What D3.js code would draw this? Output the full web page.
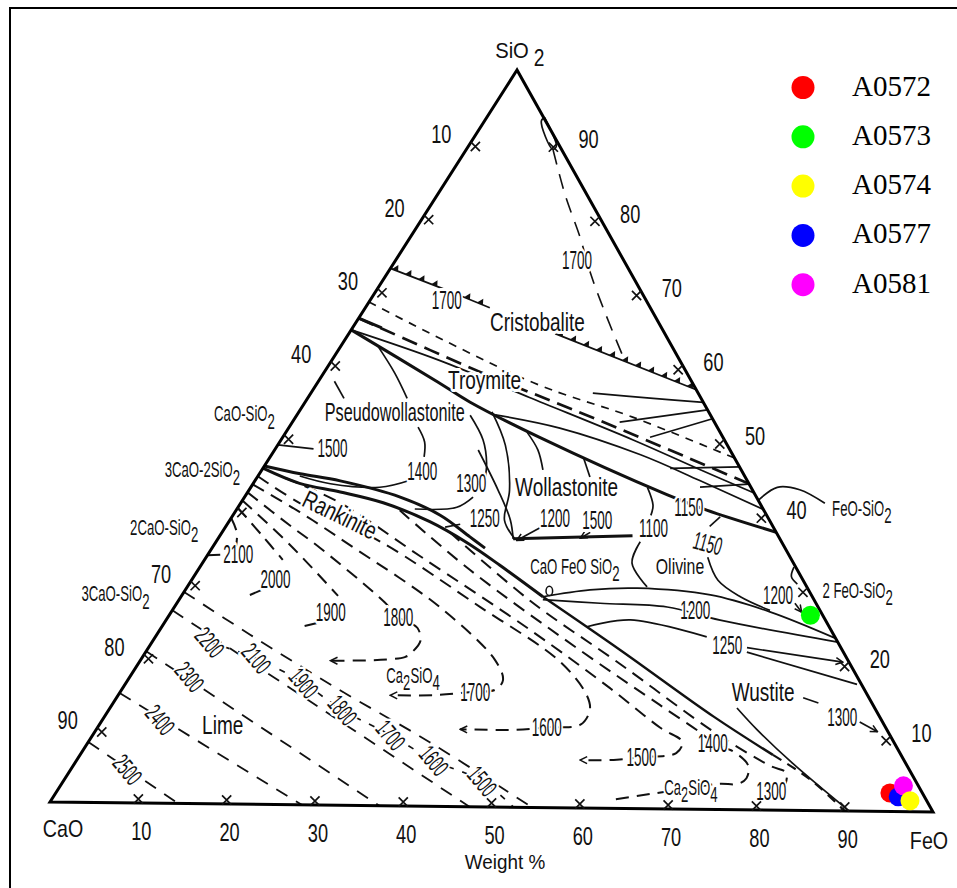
<!DOCTYPE html>
<html>
<head>
<meta charset="utf-8">
<script src="https://cdn.jsdelivr.net/npm/d3@7/dist/d3.min.js"></script>
<style>
html,body{margin:0;padding:0;background:#fff;}
svg{display:block;background:#fff;}
text{font-family:"Liberation Sans",Arial,Helvetica,sans-serif;fill:#111;}
.legend text{font-family:"Liberation Serif","Times New Roman",serif;fill:#000;}
</style>
</head>
<body>
<svg id="chart" width="957" height="888"></svg>
<script>
// ---------- sample analyses (wt %, CaO is the balance) ----------
const sampleNames  = ["A0572", "A0573", "A0574", "A0577", "A0581"];
const sampleSiO2   = [2.5, 26.5, 1.5, 2.0, 3.5];
const sampleFeO    = [93.8, 72.1, 96.6, 95.0, 94.8];
const sampleColors = ["#ff0000", "#00ff00", "#ffff00", "#0000ff", "#ff00ff"];
const sampleDrawOrder = [0, 1, 3, 4, 2];

// ---------- axis ticks ----------
const gridValues   = [10, 20, 30, 40, 50, 60, 70, 80, 90];
const feoTickLabels = [10, 20, 30, 40, 50, 60, 70, 80, 90];   // bottom edge, FeO %
const caoTickLabels = [10, 20, 30, 40, 70, 80, 90];           // left edge, CaO %
const sio2TickLabels = [90, 80, 70, 60, 50, 40, 20, 10];      // right edge, SiO2 %

// ---------- phase boundaries and isotherms, points are [SiO2 %, FeO %] ----------
const cristobaliteSegments = [
  [[72.9, 0], [70.1, 7.7]],
  [[69.2, 10.1], [67.7, 14.0]],
  [[64.3, 23.2], [56.9, 43.1]]
];
const silicaLiquidus1700 = [[89.2, 9.8], [83.1, 14.4], [77.4, 19.1], [72.6, 22.8], [67.0, 27.5], [61.5, 32.3]];
const silicaLens = [[93.6, 6.5], [89.7, 9.9], [89.3, 9.7], [93.1, 6.4], [93.6, 6.5]];
const tridymiteShortDash = [[68.3, 0], [57.6, 24.3], [53.1, 37.9], [47.7, 52.3]];
const tridymiteLongDash = [[66.1, 0], [59.0, 17.5], [52.6, 34.4], [44.3, 55.6]];
const tridymiteLongDashHead = [[66.1, 0], [64.8, 3.3]];
const tridymiteWollastonite = [[64.5, 0], [57.6, 13.4], [54.9, 18.5], [50.2, 28.9], [42.6, 47.4], [40.6, 52.9], [37.7, 62.3]];
const tridymiteSolid = [[64.5, 0], [60.5, 12.1], [55.6, 24.9], [50.0, 39.6], [46.1, 49.2], [43.0, 57.0]];
const wollastoniteUpper = [[53.2, 22.3], [51.5, 30.5], [48.0, 41.5], [44.6, 50.0], [40.7, 59.4]];
const tridymiteTies = [
  [[56.3, 31.7], [55.7, 38.5], [55.2, 44.8]],
  [[52.4, 36.8], [54.2, 45.8]],
  [[50.4, 41.3], [53.0, 47.0]],
  [[46.2, 45.8], [46.5, 53.5]],
  [[43.7, 50.5], [44.2, 55.8]]
];
const pseudoCurves = [
  [[48.8, 0], [48.3, 4.3]],
  [[57.5, 1.8], [55.2, 4.1]],
  [[62.3, 4.2], [58.7, 8.0], [55.3, 11.2]],
  [[51.4, 14.5], [49.4, 16.3], [47.4, 17.3]],
  [[44.2, 17.4], [43.2, 14.5], [43.6, 8.7], [44.6, 4.7]],
  [[42.0, 25.7], [40.6, 24.6], [40.3, 20.0]],
  [[38.3, 26.2], [37.9, 24.7]],
  [[53.1, 19.5], [49.8, 22.7], [46.6, 24.8], [44.3, 25.8]],
  [[53.6, 21.7], [49.1, 25.6], [43.0, 29.3], [38.9, 30.9], [36.3, 33.5]],
  [[48.4, 22.9], [43.0, 28.0], [39.0, 31.5], [36.4, 33.2]],
  [[50.9, 27.1], [48.5, 29.6], [45.8, 31.6]],
  [[47.5, 35.3], [44.9, 37.4]],
  [[43.6, 44.6], [41.2, 46.5], [39.8, 47.0]],
  [[36.2, 47.7], [33.3, 48.3], [30.1, 51.7]]
];
const wollastoniteLeaders = [
  [[37.9, 35.4], [36.2, 33.7]],
  [[37.4, 41.4], [36.6, 40.7]]
];
const cafesiBoundary = [[36.4, 33.2], [37.0, 46.4]];
const cafesiPoint = [29.4, 41.0];
const olivineCurves = [
  [[39.7, 54.9], [38.4, 54.4]],
  [[34.2, 56.4], [31.1, 59.2], [28.9, 62.9], [27.1, 67.2]],
  [[28.6, 40.7], [29.6, 45.5], [29.9, 50.7], [29.1, 59.4], [26.9, 67.3], [23.4, 76.6]],
  [[28.2, 40.9], [27.8, 47.6], [27.4, 55.4], [25.7, 62.3], [22.9, 77.1]],
  [[24.6, 47.8], [25.6, 52.2], [23.4, 62.0]],
  [[21.4, 67.6], [17.2, 82.3]],
  [[33.0, 66.8], [31.7, 67.2], [30.7, 68.4]],
  [[42.0, 58.0], [43.8, 59.2], [43.5, 61.9], [41.7, 65.7]],
  [[13.8, 70.5], [10.9, 74.3], [6.4, 80.7], [0, 90.5]],
  [[15.3, 77.2], [14.6, 79.3]]
];
const olivineArrows = [
  [[22.0, 67.3], [20.2, 79.1]],
  [[12.1, 85.3], [10.8, 88.0]],
  [[28.1, 69.5], [26.9, 70.9]]
];
const rankiniteUpper = [[45.9, 0], [44.9, 4.6], [44.0, 9.6], [41.9, 17.5], [39.5, 23.3], [36.6, 28.2], [35.1, 30.7]];
const rankiniteLower = [[45.6, 0], [43.6, 5.2], [42.5, 10.4], [41.1, 16.0], [38.6, 22.6], [35.8, 28.3], [32.8, 33.6], [28.6, 40.7]];
const dicalciumOlivine = [[28.6, 40.7], [21.5, 53.2], [12.6, 68.5], [7.5, 77.9]];
const dicalciumOlivineEnd = [[7.5, 77.9], [4.2, 83.9], [0, 90]];

// Ca2SiO4 field isotherms (upper arm, nose, return arm)
const c2sIsotherms = [
  [[38.8, 0], [36.8, 1.7], [34.9, 2.6]],
  [[33.8, 1.4], [33.7, 0]],
  [[40.2, 0], [36.5, 4.7], [33.2, 8.8]],
  [[29.1, 8.6], [28.0, 7.1]],
  [[41.2, 0], [35.2, 8.6], [28.4, 17.6]],
  [[24.7, 17.2], [24.0, 15.3]],
  [[37.2, 25.6], [28.0, 39.6], [19.6, 54.2], [10.6, 69.5], [6.0, 78.4], [5.1, 80.7], [3.6, 81.4]],
  [[40.1, 18.4], [32.1, 30.6], [21.4, 48.7], [14.1, 61.6], [10.2, 68.5], [9.0, 70.3], [7.8, 73.4], [6.0, 75.9], [4.3, 76.6], [3.5, 76.0], [3.5, 74.0], [2.9, 71.0], [2.0, 66.9], [1.1, 62.8]]
];
const c2sArrowed = [
  [[42.3, 0], [37.9, 7.1], [34.9, 12.1], [27.6, 23.3], [25.6, 25.9], [24.2, 28.8], [22.4, 30.1], [21.0, 30.0], [20.2, 29.5], [19.6, 21.4]],
  [[43.4, 0], [39.7, 7.3], [35.3, 15.3], [27.0, 29.9], [19.9, 39.9], [17.2, 42.2], [15.9, 42.0], [15.6, 39.7], [15.1, 35.8], [15.0, 30.6]],
  [[44.5, 0], [40.9, 6.7], [35.8, 18.5], [27.1, 34.4], [19.8, 47.3], [15.3, 52.7], [13.3, 54.1], [11.3, 54.1], [10.9, 50.5], [10.5, 47.3], [10.5, 40.9]],
  [[44.3, 3.2], [41.0, 11.2], [33.9, 24.0], [24.1, 41.6], [16.3, 54.8], [11.0, 63.3], [9.1, 66.8], [7.6, 66.9], [7.0, 63.3], [6.6, 60.7], [6.5, 56.6]]
];
// lime field isotherms and the lime / Ca2SiO4 boundary
const limeIsotherms = [
  [[8.2, 0], [0, 14.5]],
  [[14.9, 0], [0, 28.5]],
  [[20.6, 0], [0, 37.3]],
  [[26.2, 0], [0, 47.5]],
  [[28.7, 0], [23.0, 10.5], [15.6, 24.6], [8.7, 38.4], [0, 54.6]]
];
const limeC2sBoundary = [[21.9, 6.5], [19.8, 12.9], [16.5, 20.0], [12.9, 26.3], [9.6, 33.5], [6.2, 40.2], [3.5, 47.1], [0, 52.5]];

// ---------- text annotations ----------
const fieldNames = ["Cristobalite", "Troymite", "Pseudowollastonite", "Wollastonite", "Rankinite", "Olivine", "Wustite", "Lime"];
const fieldAt = [[65.8, 20.4], [57.9, 18.6], [53.4, 10.8], [43.5, 35.5], [39.4, 12.0], [33.0, 53.9], [16.0, 72.3], [10.7, 13.9]];
const compoundNames = ["Ca_2SiO_4", "Ca_2SiO_4", "CaO FeO SiO_2"];
const compoundAt = [[17.8, 31.7], [3.0, 71.0], [32.8, 42.1]];
const joinNames = ["CaO-SiO_2", "3CaO-2SiO_2", "2CaO-SiO_2", "3CaO-SiO_2", "FeO-SiO_2", "2 FeO-SiO_2"];
const joinAt = [[53.0, -6.0], [45.3, -6.7], [37.5, -6.9], [28.4, -7.6], [41.1, 70.2], [30.0, 75.6]];
const tempLabels = ["1700", "1700", "1500", "1400", "1300", "1250", "1200", "1500", "1100", "1150", "1150", "1200", "1200", "1250", "1300",
                    "2100", "2000", "1900", "1800", "1700", "1600", "1500", "1400", "1300"];
const tempAt = [[68.7, 8.6], [74.3, 20.4], [48.4, 6.4], [45.5, 18.1], [43.9, 24.5], [39.2, 28.5], [39.3, 36.4], [39.1, 41.3], [38.1, 48.2],
                [40.9, 50.7], [36.1, 55.4], [27.0, 58.8], [29.2, 67.0], [22.3, 64.9], [12.7, 83.0],
                [33.9, 3.4], [30.5, 9.4], [26.1, 18.0], [25.6, 25.9], [15.6, 39.9], [10.9, 50.5], [7.0, 63.3], [9.0, 70.3], [2.6, 80.3]];
const tiltedTempLabels = ["2500", "2400", "2300", "2200", "2100", "1900", "1800", "1700", "1600", "1500"];
const tiltedTempAt = [[4.5, 6.4], [11.3, 6.5], [17.2, 6.7], [21.9, 6.5], [19.8, 12.9], [16.5, 20.0], [12.9, 26.3], [9.6, 33.5], [6.2, 40.2], [3.5, 47.1]];

// ---------- drawing ----------
const svg = d3.select("#chart");
const ink = "#111";

// page corners of the ternary frame: SiO2 apex, CaO left, FeO right
const apex = [517, 70], cao = [50, 802], feo = [933, 812];
const sioX = d3.scaleLinear().domain([0, 100]).range([0, apex[0] - cao[0]]);
const sioY = d3.scaleLinear().domain([0, 100]).range([0, apex[1] - cao[1]]);
const feoX = d3.scaleLinear().domain([0, 100]).range([0, feo[0] - cao[0]]);
const feoY = d3.scaleLinear().domain([0, 100]).range([0, feo[1] - cao[1]]);
const project = ([s, f]) => [cao[0] + sioX(s) + feoX(f), cao[1] + sioY(s) + feoY(f)];

svg.append("rect").attr("x", 10).attr("y", 8).attr("width", 980).attr("height", 920)
  .attr("fill", "none").attr("stroke", "#000").attr("stroke-width", 2);

const defs = svg.append("defs");
defs.append("marker").attr("id", "arrow").attr("viewBox", "-9 -5 10 10")
  .attr("refX", 0).attr("refY", 0).attr("markerWidth", 10).attr("markerHeight", 10)
  .attr("orient", "auto").attr("markerUnits", "userSpaceOnUse")
  .append("path").attr("d", "M-7,-3.5L0,0L-7,3.5").attr("fill", "none")
  .attr("stroke", ink).attr("stroke-width", 1.5);

const gLines = svg.append("g");
const gTeeth = svg.append("g");
const gText = svg.append("g");
const gFrame = svg.append("g");
const gDots = svg.append("g");

const smooth = d3.line().curve(d3.curveCatmullRom.alpha(0.5));
const styles = {
  thin:     { w: 1.7 },
  medium:   { w: 2.4 },
  thick:    { w: 3.0 },
  shortDash:{ w: 1.7, dash: "8,7" },
  longDash: { w: 2.7, dash: "16,8" },
  silica:   { w: 1.6, dash: "15,10" },
  iso:      { w: 2.0, dash: "13,8" },
  lime:     { w: 1.8, dash: "13,10" },
  chain:    { w: 1.7, dash: "6,9" },
  endDash:  { w: 2.2, dash: "10,7" }
};
function drawPath(pts, st, arrow) {
  const p = gLines.append("path").attr("d", smooth(pts.map(project)))
    .attr("fill", "none").attr("stroke", ink).attr("stroke-width", st.w)
    .attr("stroke-linejoin", "round");
  if (st.dash) p.attr("stroke-dasharray", st.dash);
  if (arrow) p.attr("marker-end", "url(#arrow)");
}

cristobaliteSegments.forEach(s => drawPath(s, styles.thin));
drawPath(silicaLiquidus1700, styles.silica);
drawPath(silicaLens, styles.thin);
drawPath(tridymiteShortDash, styles.shortDash);
drawPath(tridymiteLongDash, styles.longDash);
drawPath(tridymiteLongDashHead, styles.thick);
drawPath(tridymiteWollastonite, styles.thick);
drawPath(tridymiteSolid, styles.thin);
drawPath(wollastoniteUpper, styles.thin);
tridymiteTies.forEach(s => drawPath(s, styles.thin));
pseudoCurves.forEach(s => drawPath(s, styles.thin));
wollastoniteLeaders.forEach(s => drawPath(s, styles.thin, true));
drawPath(cafesiBoundary, styles.thick);
olivineCurves.forEach(s => drawPath(s, styles.thin));
olivineArrows.forEach(s => drawPath(s, styles.thin, true));
drawPath(rankiniteUpper, styles.thick);
drawPath(rankiniteLower, styles.thick);
drawPath(dicalciumOlivine, styles.medium);
drawPath(dicalciumOlivineEnd, styles.endDash);
c2sIsotherms.forEach(s => drawPath(s, styles.iso));
c2sArrowed.forEach(s => drawPath(s, styles.iso, true));
limeIsotherms.forEach(s => drawPath(s, styles.lime));
drawPath(limeC2sBoundary, styles.chain);

// the CaO·FeO·SiO2 compound composition point
{
  const p = project(cafesiPoint);
  gLines.append("ellipse").attr("cx", p[0]).attr("cy", p[1]).attr("rx", 3.3).attr("ry", 4.6)
    .attr("fill", "#fff").attr("stroke", ink).attr("stroke-width", 1.5);
}

// saw-tooth marks on the cristobalite liquidus
cristobaliteSegments.forEach(seg => {
  const [p0, p1] = seg.map(project);
  const dx = p1[0] - p0[0], dy = p1[1] - p0[1], L = Math.hypot(dx, dy);
  const ux = dx / L, uy = dy / L, nx = uy, ny = -ux;
  for (let t = 5; t < L - 2; t += 14) {
    const cx = p0[0] + ux * t, cy = p0[1] + uy * t;
    const tri = [[cx - ux * 3.2, cy - uy * 3.2], [cx + ux * 3.2, cy + uy * 3.2], [cx + ux * 1.2 + nx * 6, cy + uy * 1.2 + ny * 6]];
    gTeeth.append("path").attr("d", "M" + tri.map(p => p.join(",")).join("L") + "Z").attr("fill", ink);
  }
});

// text helper: "_d" marks a subscript digit
function putText(parent, str, xy, st, rot, halo) {
  const g = parent.append("g")
    .attr("transform", `translate(${xy[0].toFixed(1)},${xy[1].toFixed(1)}) rotate(${rot || 0}) scale(${st.sx},1)`);
  const t = g.append("text").attr("text-anchor", st.anchor || "middle")
    .attr("font-size", st.size).attr("dy", "0.35em");
  if (halo) t.attr("stroke", "#fff").attr("stroke-width", 6).attr("stroke-linejoin", "round").attr("paint-order", "stroke");
  const parts = str.split(/_(\d)/);
  let down = false;
  parts.forEach((p, i) => {
    if (!p) return;
    const ts = t.append("tspan").text(p);
    if (i % 2 === 1) { ts.attr("dy", st.size * 0.34); down = true; }
    else if (down) { ts.attr("dy", -st.size * 0.34); down = false; }
  });
  return t;
}
const txt = {
  field:    { size: 25, sx: 0.76 },
  narrowField: { size: 25, sx: 0.65 },
  smallField: { size: 22, sx: 0.72 },
  compound: { size: 22, sx: 0.6 },
  join:     { size: 22, sx: 0.6 },
  temp:     { size: 25, sx: 0.54 },
  axis:     { size: 26, sx: 0.7 },
  vertex:   { size: 24, sx: 0.82 },
  caption:  { size: 21, sx: 0.9 }
};
const fieldStyle = name => name === "Pseudowollastonite" ? txt.narrowField : (name === "Olivine" ? txt.smallField : txt.field);

fieldNames.forEach((n, i) => putText(gText, n, project(fieldAt[i]), fieldStyle(n), n === "Rankinite" ? 26 : 0, true));
compoundNames.forEach((n, i) => putText(gText, n, project(compoundAt[i]), txt.compound, 0, true));
joinNames.forEach((n, i) => putText(gText, n, project(joinAt[i]), txt.join, 0, true));
tempLabels.forEach((n, i) => putText(gText, n, project(tempAt[i]), txt.temp, i === 10 ? 15 : 0, true));
tiltedTempLabels.forEach((n, i) => putText(gText, n, project(tiltedTempAt[i]), txt.temp, 50, true));

// triangle frame
gFrame.append("path").attr("d", `M${apex}L${cao}L${feo}Z`).attr("fill", "none")
  .attr("stroke", "#000").attr("stroke-width", 3).attr("stroke-linejoin", "miter");

// tick crosses, nudged toward the inside of the triangle
const centroid = project([100 / 3, 100 / 3]);
function sideNormal(a, b) {
  const dx = b[0] - a[0], dy = b[1] - a[1], L = Math.hypot(dx, dy);
  let nx = -dy / L, ny = dx / L;
  const mx = (a[0] + b[0]) / 2, my = (a[1] + b[1]) / 2;
  if ((centroid[0] - mx) * nx + (centroid[1] - my) * ny < 0) { nx = -nx; ny = -ny; }
  return [nx, ny];
}
function cross(p, n, off) {
  const cx = p[0] + n[0] * off, cy = p[1] + n[1] * off, r = 4.6;
  gFrame.append("path").attr("d", `M${cx - r},${cy - r}L${cx + r},${cy + r}M${cx - r},${cy + r}L${cx + r},${cy - r}`)
    .attr("stroke", ink).attr("stroke-width", 1.7).attr("fill", "none");
}
const nBottom = sideNormal(cao, feo), nLeft = sideNormal(apex, cao), nRight = sideNormal(apex, feo);
gridValues.forEach(v => {
  cross(project([0, v]), nBottom, 4);
  cross(project([100 - v, 0]), nLeft, 6);
  cross(project([v, 100 - v]), nRight, 6);
});
feoTickLabels.forEach(v => { const p = project([0, v]); putText(gFrame, String(v), [p[0] + 3, p[1] + 28], txt.axis, 0, false); });
caoTickLabels.forEach(v => { const p = project([100 - v, 0]); putText(gFrame, String(v), [p[0] - 29, p[1] - 9], txt.axis, 0, false); });
sio2TickLabels.forEach(v => { const p = project([v, 100 - v]); putText(gFrame, String(v), [p[0] + 30, p[1] - 5], txt.axis, 0, false); });

// corner names
putText(gFrame, "CaO", [cao[0] + 13, cao[1] + 27], txt.vertex, 0, false);
putText(gFrame, "FeO", [feo[0] - 4, feo[1] + 29], txt.vertex, 0, false);
putText(gFrame, "SiO", [apex[0] - 5, apex[1] - 20], { size: 22, sx: 0.92 }, 0, false);
putText(gFrame, "2", [apex[0] + 22, apex[1] - 12], { size: 24, sx: 0.8 }, 0, false);
putText(gFrame, "Weight %", [505, 862], txt.caption, 0, false);

// sample points
sampleDrawOrder.forEach(i => {
  const p = project([sampleSiO2[i], sampleFeO[i]]);
  gDots.append("circle").attr("cx", p[0]).attr("cy", p[1]).attr("r", 9.5).attr("fill", sampleColors[i]);
});

// legend
const legend = svg.append("g").attr("class", "legend");
sampleNames.forEach((n, i) => {
  const y = 95.5 + i * 49.3;
  legend.append("circle").attr("cx", 803).attr("cy", y - 8).attr("r", 11.5).attr("fill", sampleColors[i]);
  legend.append("text").attr("x", 852).attr("y", y).attr("font-size", 29).text(n);
});
</script>
</body>
</html>
